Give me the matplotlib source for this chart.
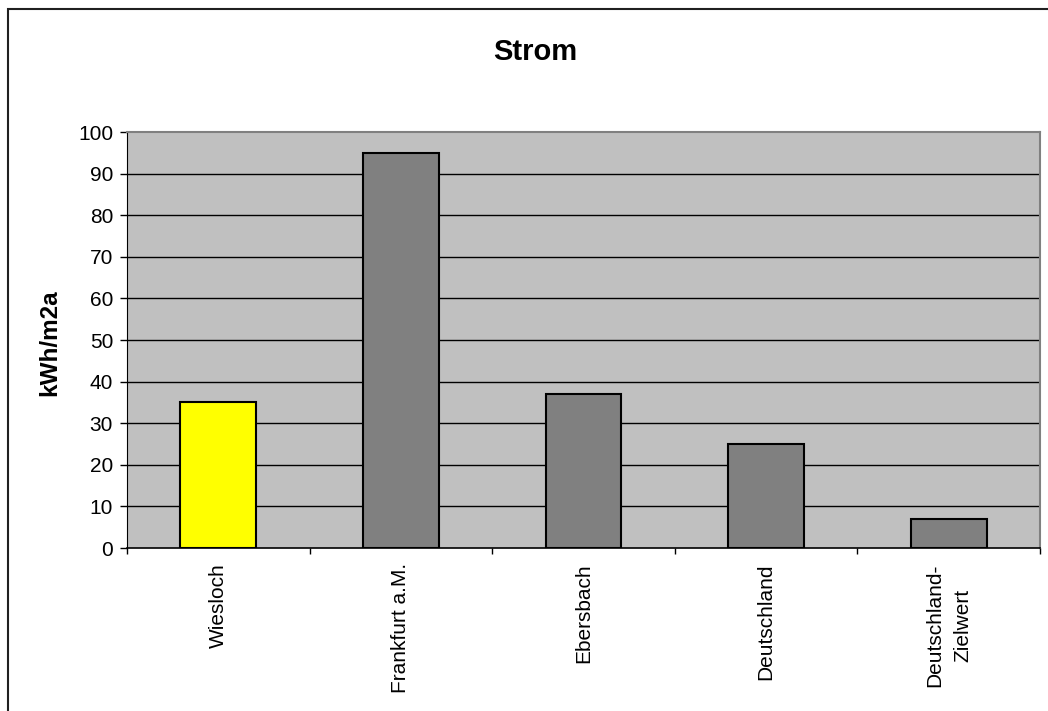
import matplotlib.pyplot as plt
from matplotlib.patches import Rectangle

# Stromverbrauch je Standort
categories = ["Wiesloch", "Frankfurt a.M.", "Ebersbach", "Deutschland", "Deutschland-\nZielwert"]
values = [35, 95, 37, 25, 7]
colors = ["#FFFF00", "#808080", "#808080", "#808080", "#808080"]
y_ticks = list(range(0, 101, 10))

plt.rcParams['font.family'] = ['Liberation Sans', 'DejaVu Sans']

W, H = 1048, 711
fig = plt.figure(figsize=(W / 100, H / 100), dpi=100)
ax = fig.add_axes([127 / W, 1 - 548 / H, (1040 - 127) / W, (548 - 132) / H])
ax.set_facecolor("#C0C0C0")

x = list(range(len(categories)))
ax.bar(x, values, width=0.415, color=colors, edgecolor="black", linewidth=1.5, zorder=3)

ax.set_xlim(-0.5, len(categories) - 0.5)
ax.set_ylim(0, 100)
ax.set_yticks(y_ticks)
ax.set_yticklabels([str(v) for v in y_ticks], fontsize=15)
for v in y_ticks[1:-1]:
    ax.axhline(v, color="black", linewidth=1, zorder=1)

# category boundaries as tick marks, labels centred under bars
ax.set_xticks([i - 0.5 for i in range(len(categories) + 1)])
ax.set_xticklabels([])
ax.set_xticks(x, minor=True)
ax.set_xticklabels(categories, minor=True, rotation=90, fontsize=15,
                   va="top", ha="center", multialignment="center", linespacing=1.65)
ax.tick_params(axis="x", which="major", direction="out", length=4, width=1)
ax.tick_params(axis="x", which="minor", length=0, pad=11)
ax.tick_params(axis="y", direction="out", length=5, width=1, pad=5)

ax.spines["left"].set_color("black")
ax.spines["bottom"].set_color("black")
ax.spines["bottom"].set_linewidth(1.2)
ax.spines["top"].set_color("#808080")
ax.spines["right"].set_color("#808080")
ax.spines["top"].set_linewidth(1.5)
ax.spines["right"].set_linewidth(1.5)

fig.text(50 / W, 1 - 343 / H, "kWh/m2a", fontsize=17.5, fontweight="bold",
         rotation=90, ha="center", va="center")
fig.text(535 / W, 1 - 52 / H, "Strom", fontsize=21, fontweight="bold", ha="center", va="center")

# outer chart frame
fig.patches.append(Rectangle((8 / W, -0.1), 1.2, 1 - 9 / H + 0.1, transform=fig.transFigure,
                             fill=False, edgecolor="#202020", linewidth=1.5))

fig.savefig("out.png", dpi=100)
